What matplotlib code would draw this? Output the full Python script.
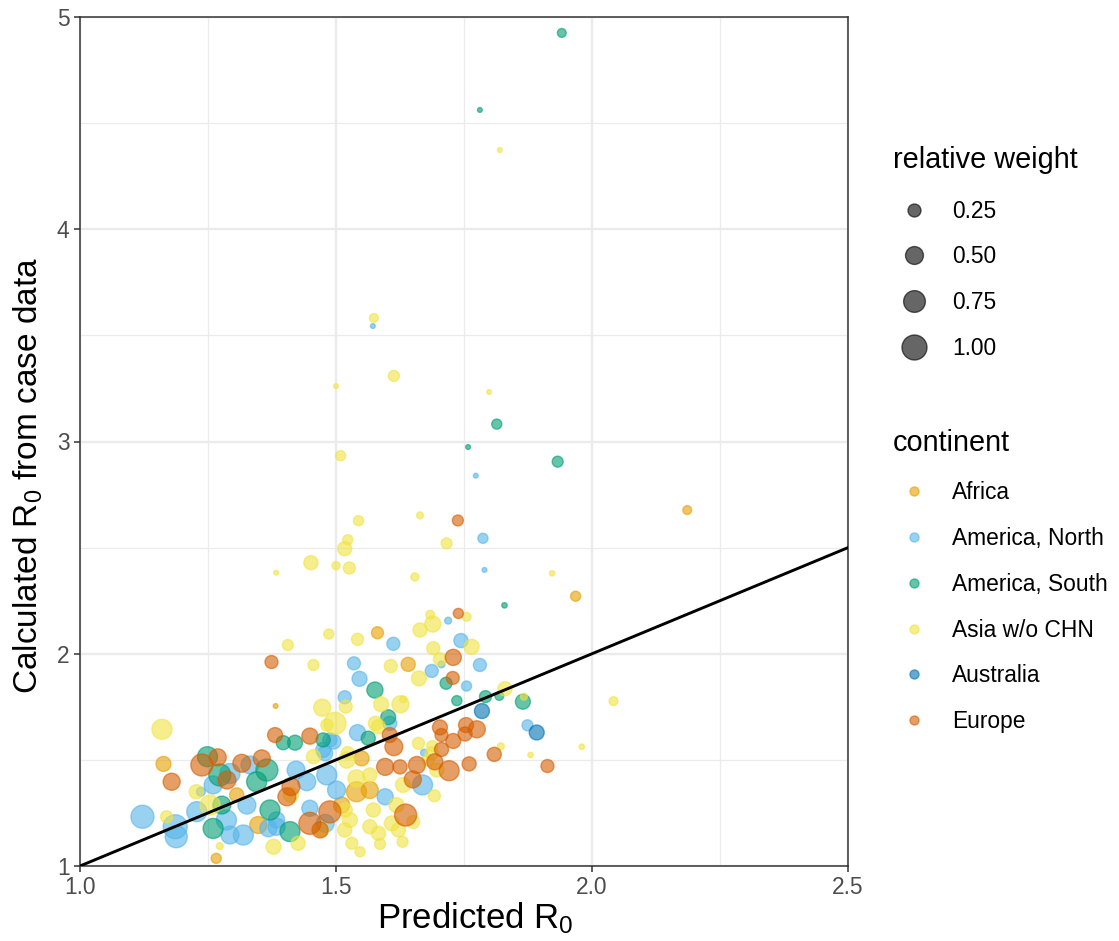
import numpy as np
import matplotlib
matplotlib.use("Agg")
import matplotlib.pyplot as plt
from matplotlib.lines import Line2D

plt.rcParams['font.family'] = ['Liberation Sans', 'DejaVu Sans']
plt.rcParams['mathtext.fontset'] = 'custom'
plt.rcParams['mathtext.rm'] = 'Liberation Sans'
plt.rcParams['mathtext.it'] = 'Liberation Sans:italic'

# predicted vs calculated R0 per country, weight = relative weight of the country
africa_x = [2.186, 1.968, 1.581, 1.641, 1.382, 1.163, 1.306, 1.266, 1.348, 1.540, 1.566, 1.511, 1.550]
africa_y = [2.677, 2.271, 2.099, 1.950, 1.754, 1.481, 1.335, 1.036, 1.193, 1.350, 1.358, 1.287, 1.507]
africa_w = [0.10, 0.14, 0.21, 0.30, 0.01, 0.34, 0.30, 0.14, 0.45, 0.63, 0.45, 0.40, 0.34]

namerica_x = [1.572, 1.773, 1.787, 1.790, 1.719, 1.744, 1.612, 1.535, 1.781, 1.706,
              1.687, 1.755, 1.546, 1.517, 1.874, 1.605, 1.542, 1.495, 1.672, 1.479,
              1.482, 1.443, 1.501, 1.596, 1.669, 1.449, 1.384, 1.479, 1.122, 1.186,
              1.188, 1.236, 1.293, 1.260, 1.228, 1.286, 1.326, 1.293, 1.319, 1.332,
              1.368, 1.384, 1.475, 1.488, 1.422]
namerica_y = [3.544, 2.839, 2.544, 2.395, 2.156, 2.062, 2.047, 1.955, 1.947, 1.950,
              1.919, 1.848, 1.882, 1.795, 1.663, 1.672, 1.628, 1.586, 1.534, 1.531,
              1.429, 1.397, 1.358, 1.326, 1.382, 1.272, 1.185, 1.201, 1.232, 1.185,
              1.138, 1.350, 1.436, 1.382, 1.256, 1.217, 1.287, 1.146, 1.146, 1.476,
              1.178, 1.217, 1.547, 1.594, 1.452]
namerica_w = [0.01, 0.01, 0.14, 0.01, 0.05, 0.30, 0.25, 0.25, 0.25, 0.05,
              0.25, 0.14, 0.34, 0.25, 0.17, 0.30, 0.40, 0.34, 0.05, 0.34,
              0.63, 0.50, 0.50, 0.40, 0.63, 0.40, 0.45, 0.50, 0.84, 0.92,
              0.77, 0.10, 0.63, 0.50, 0.63, 0.63, 0.50, 0.50, 0.63, 0.50,
              0.45, 0.40, 0.34, 0.30, 0.50]

samerica_x = [1.941, 1.781, 1.814, 1.758, 1.933, 1.829, 1.715, 1.736, 1.792, 1.819,
              1.865, 1.576, 1.602, 1.563, 1.397, 1.420, 1.475, 1.249, 1.273, 1.277,
              1.260, 1.365, 1.345, 1.371, 1.410]
samerica_y = [4.925, 4.562, 3.082, 2.974, 2.905, 2.228, 1.861, 1.779, 1.798, 1.801,
              1.774, 1.829, 1.701, 1.602, 1.581, 1.581, 1.594, 1.515, 1.429, 1.287,
              1.177, 1.452, 1.397, 1.264, 1.162]
samerica_w = [0.10, 0.01, 0.14, 0.01, 0.17, 0.02, 0.21, 0.14, 0.21, 0.10,
              0.34, 0.40, 0.34, 0.30, 0.30, 0.34, 0.30, 0.63, 0.77, 0.50,
              0.63, 0.77, 0.63, 0.63, 0.63]

asia_x = [1.820, 1.574, 1.500, 1.613, 1.799, 1.509, 1.664, 1.544, 1.523, 1.517,
          1.716, 1.383, 1.451, 1.500, 1.526, 1.654, 1.922, 1.684, 1.689, 1.755,
          1.664, 1.765, 1.486, 1.406, 1.542, 1.456, 1.607, 1.690, 1.703, 1.662,
          1.830, 1.867, 2.042, 1.519, 1.473, 1.588, 1.626, 1.631, 1.498, 1.482,
          1.583, 1.822, 1.880, 1.980, 1.687, 1.697, 1.692, 1.160, 1.169, 1.227,
          1.254, 1.273, 1.378, 1.661, 1.688, 1.456, 1.521, 1.540, 1.631, 1.527,
          1.573, 1.609, 1.517, 1.566, 1.583, 1.586, 1.531, 1.547, 1.651, 1.622,
          1.630, 1.518, 1.472, 1.426, 1.618, 1.680, 1.523, 1.412, 1.577, 1.566]
asia_y = [4.373, 3.582, 3.261, 3.309, 3.233, 2.933, 2.652, 2.627, 2.537, 2.495,
          2.520, 2.382, 2.429, 2.415, 2.404, 2.362, 2.379, 2.184, 2.140, 2.174,
          2.112, 2.033, 2.093, 2.041, 2.068, 1.947, 1.942, 2.026, 1.974, 1.884,
          1.835, 1.798, 1.777, 1.751, 1.746, 1.762, 1.762, 1.785, 1.672, 1.664,
          1.656, 1.564, 1.523, 1.562, 1.531, 1.452, 1.331, 1.644, 1.232, 1.350,
          1.287, 1.094, 1.091, 1.578, 1.565, 1.515, 1.499, 1.413, 1.382, 1.217,
          1.264, 1.201, 1.170, 1.185, 1.154, 1.104, 1.107, 1.067, 1.208, 1.170,
          1.114, 1.264, 1.170, 1.107, 1.287, 1.499, 1.532, 1.335, 1.672, 1.429]
asia_w = [0.01, 0.10, 0.01, 0.17, 0.01, 0.14, 0.05, 0.14, 0.14, 0.30,
          0.17, 0.01, 0.30, 0.08, 0.21, 0.08, 0.02, 0.10, 0.40, 0.10,
          0.30, 0.34, 0.14, 0.17, 0.21, 0.17, 0.25, 0.25, 0.25, 0.34,
          0.30, 0.05, 0.10, 0.25, 0.45, 0.34, 0.45, 0.05, 0.77, 0.21,
          0.30, 0.05, 0.02, 0.02, 0.25, 0.30, 0.21, 0.63, 0.21, 0.30,
          0.63, 0.05, 0.34, 0.21, 0.17, 0.30, 0.40, 0.45, 0.34, 0.34,
          0.30, 0.34, 0.30, 0.30, 0.30, 0.17, 0.21, 0.14, 0.25, 0.30,
          0.17, 0.30, 0.30, 0.30, 0.34, 0.21, 0.25, 0.34, 0.30, 0.30]

australia_x = [1.785, 1.892]
australia_y = [1.730, 1.629]
australia_w = [0.34, 0.34]

europe_x = [1.738, 1.739, 1.729, 1.374, 1.728, 1.703, 1.706, 1.754, 1.775, 1.752,
            1.729, 1.706, 1.809, 1.913, 1.760, 1.693, 1.721, 1.381, 1.449, 1.613,
            1.605, 1.596, 1.625, 1.658, 1.412, 1.404, 1.488, 1.636, 1.650, 1.449,
            1.469, 1.179, 1.238, 1.269, 1.287, 1.316, 1.355]
europe_y = [2.628, 2.190, 1.983, 1.961, 1.886, 1.653, 1.617, 1.664, 1.644, 1.622,
            1.589, 1.549, 1.526, 1.471, 1.481, 1.491, 1.449, 1.617, 1.612, 1.562,
            1.617, 1.467, 1.467, 1.476, 1.374, 1.326, 1.255, 1.240, 1.408, 1.201,
            1.170, 1.397, 1.476, 1.512, 1.405, 1.484, 1.507]
europe_w = [0.17, 0.14, 0.40, 0.25, 0.25, 0.34, 0.25, 0.34, 0.45, 0.30,
            0.34, 0.30, 0.30, 0.25, 0.30, 0.40, 0.63, 0.34, 0.40, 0.50,
            0.34, 0.45, 0.30, 0.45, 0.50, 0.50, 0.77, 0.77, 0.45, 0.77,
            0.40, 0.45, 0.77, 0.45, 0.50, 0.50, 0.45]

continents = ["Africa", "America, North", "America, South", "Asia w/o CHN", "Australia", "Europe"]
colors = ["#E69F00", "#56B4E9", "#009E73", "#F0E442", "#0072B2", "#D55E00"]
size_breaks = [0.25, 0.50, 0.75, 1.00]

groups = [
    (africa_x, africa_y, africa_w),
    (namerica_x, namerica_y, namerica_w),
    (samerica_x, samerica_y, samerica_w),
    (asia_x, asia_y, asia_w),
    (australia_x, australia_y, australia_w),
    (europe_x, europe_y, europe_w),
]


def wsize(w):
    # area grows linearly with weight, diameter in px -> points^2
    d2 = 17 + 608 * np.asarray(w)
    return d2 * (72 / 100) ** 2


fig = plt.figure(figsize=(11.19, 9.41), dpi=100)
ax = fig.add_axes([80 / 1119, 1 - 866 / 941, 768 / 1119, 849 / 941])

for (xs, ys, ws), col in zip(groups, colors):
    ax.scatter(xs, ys, s=wsize(ws), color=col, alpha=0.6, edgecolors=col,
               linewidths=1.0, zorder=3)

ax.plot([1.0, 2.5], [1.0, 2.5], color="black", lw=2.1, zorder=4)

ax.set_xlim(1.0, 2.5)
ax.set_ylim(1.0, 5.0)
ax.set_xticks([1.0, 1.5, 2.0, 2.5])
ax.set_xticklabels(["1.0", "1.5", "2.0", "2.5"])
ax.set_yticks([1, 2, 3, 4, 5])
ax.set_xticks([1.25, 1.75, 2.25], minor=True)
ax.set_yticks([1.5, 2.5, 3.5, 4.5], minor=True)
ax.grid(which="major", color="#EBEBEB", lw=1.7, zorder=0)
ax.grid(which="minor", color="#EBEBEB", lw=0.9, zorder=0)
ax.set_axisbelow(True)
ax.tick_params(which="major", length=4.5, width=1.1, color="#333333",
               labelsize=16.4, labelcolor="#4D4D4D", pad=3)
ax.tick_params(which="minor", length=0)
for sp in ax.spines.values():
    sp.set_color("#333333")
    sp.set_linewidth(1.1)

ax.set_xlabel("Predicted R$_0$", fontsize=25)
ax.set_ylabel("Calculated R$_0$ from case data", fontsize=24)
ax.xaxis.set_label_coords(0.515, -0.040, transform=ax.transAxes)
ax.yaxis.set_label_coords(-0.046, 0.46, transform=ax.transAxes)
ax.xaxis.label.set_va("top")

# size legend
size_handles = [Line2D([], [], ls="none", marker="o", color="black", alpha=0.6,
                       markersize=np.sqrt(wsize(b)), markeredgewidth=1.0)
                for b in size_breaks]
leg1 = fig.legend(size_handles, [f"{b:.2f}" for b in size_breaks],
                  title="relative weight", loc="upper left",
                  bbox_to_anchor=(893 / 1119, 1 - 146 / 941), frameon=False,
                  fontsize=16.4, title_fontsize=20.8, alignment="left",
                  borderpad=0, borderaxespad=0, handlelength=1.83,
                  handletextpad=0.75, labelspacing=1.0)
leg1._legend_box.sep = 18.5

cont_handles = [Line2D([], [], ls="none", marker="o", color=c, alpha=0.6,
                       markersize=6.5, markeredgewidth=1.0) for c in colors]
leg2 = fig.legend(cont_handles, continents, title="continent", loc="upper left",
                  bbox_to_anchor=(893 / 1119, 1 - 429 / 941), frameon=False,
                  fontsize=16.4, title_fontsize=20.8, alignment="left",
                  borderpad=0, borderaxespad=0, handlelength=1.83,
                  handletextpad=0.75, labelspacing=1.0)
leg2._legend_box.sep = 17.5

fig.savefig("out.png", dpi=100)
